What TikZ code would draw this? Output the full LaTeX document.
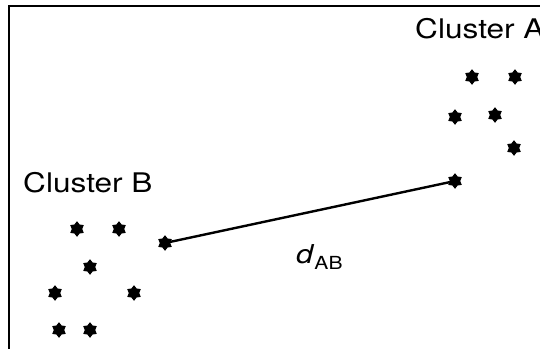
\documentclass[tikz,border=0pt]{standalone}
\usepackage{fontspec}
\setmainfont{TeX Gyre Heros}
\usetikzlibrary{shapes.geometric}

\newcommand{\widetext}[1]{\scalebox{1.17}[1]{#1}}

\begin{document}
\begin{tikzpicture}[
    x=1pt, y=-1pt,
    datapoint/.style={star, star points=6, star point ratio=1.5, fill=black, draw=black, line width=1pt, inner sep=0pt, minimum size=14pt},
    clusterlabel/.style={inner sep=0pt, font=\fontsize{27}{32}\selectfont},
    distline/.style={line width=2.4pt, line cap=round}
]
    \useasboundingbox (0,0) rectangle (540,349);
    % frame, only top and left edge visible
    \coordinate (frametr) at (540,6);
    \coordinate (frametl) at (9,6);
    \coordinate (framebl) at (9,349);
    \draw [line width=1.3pt] (frametr) -- (frametl) -- (framebl);

    % cluster A
    \node [clusterlabel, anchor=west] (labA) at (415,29) {\widetext{Cluster A}};
    \node [datapoint] (a1) at (472,77) {};
    \node [datapoint] (a2) at (515,77) {};
    \node [datapoint] (a3) at (455,117) {};
    \node [datapoint] (a4) at (495,115) {};
    \node [datapoint] (a5) at (514,148) {};
    \node [datapoint] (a6) at (455,181) {};

    % cluster B
    \node [clusterlabel, anchor=west] (labB) at (23,183) {\widetext{Cluster B}};
    \node [datapoint] (b1) at (77,229) {};
    \node [datapoint] (b2) at (119,229) {};
    \node [datapoint] (b3) at (165,243) {};
    \node [datapoint] (b4) at (90,267) {};
    \node [datapoint] (b5) at (55,293) {};
    \node [datapoint] (b6) at (134,293) {};
    \node [datapoint] (b7) at (59,330) {};
    \node [datapoint] (b8) at (90,330) {};

    % distance between the clusters
    \draw [distline] (b3.center) -- (a6.center);
    \node [inner sep=0pt, anchor=west] (dist) at (296,257)
        {\widetext{\fontsize{26}{30}\selectfont\textit{d}\raisebox{-6pt}{\fontsize{18}{20}\selectfont AB}}};
\end{tikzpicture}
\end{document}
